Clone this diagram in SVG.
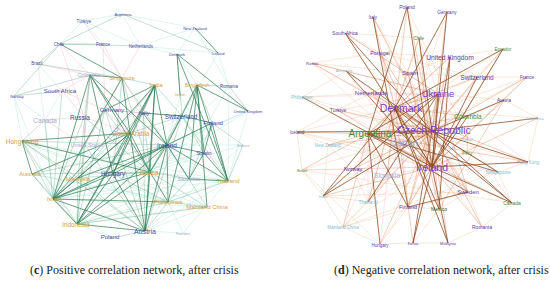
<svg xmlns="http://www.w3.org/2000/svg" width="550" height="282" viewBox="0 0 550 282">
<style>
.lab{font-family:"Liberation Sans",Arial,sans-serif;text-anchor:middle;dominant-baseline:central}
.cb{fill:#4b4ba6}.co{fill:#d9a040}.cg{fill:#a9a9c9}
.rp{fill:#7b3fc4}.rb{fill:#5b3aa8}.rc{fill:#7fbfcf}.rg{fill:#4a8a3a}.rj{fill:#9b9bd8}.rs{fill:#a8b0d8}.rm{fill:#2a5a20}
.cap{font-family:"Liberation Serif","Times New Roman",serif;font-size:12px;fill:#222}
line{fill:none}
.g1{stroke:#2f7d55;stroke-width:.9;opacity:.8}
.g2{stroke:#5aa57e;stroke-width:.6;opacity:.6}
.g3{stroke:#8fdcc8;stroke-width:.5;opacity:.6}
.gp{stroke:#f08ab0;stroke-width:.5;opacity:.55}
.b1{stroke:#8a4a20;stroke-width:.9;opacity:.85}
.b2{stroke:#d98050;stroke-width:.6;opacity:.65}
.b3{stroke:#f0c09a;stroke-width:.5;opacity:.75}
.bp{stroke:#f4a0b4;stroke-width:.5;opacity:.55}
</style>
<rect width="550" height="282" fill="#fff"/>
<g id="connectors">
<g id="c-edges-light">
<line class="g3" x1="83" y1="21" x2="60" y2="44"/><line class="g3" x1="83" y1="21" x2="103" y2="44"/><line class="g3" x1="83" y1="21" x2="140" y2="46"/>
<line class="g3" x1="122" y1="14" x2="140" y2="46"/><line class="g3" x1="122" y1="14" x2="195" y2="28"/><line class="g3" x1="122" y1="14" x2="83" y2="21"/>
<line class="g3" x1="140" y1="46" x2="195" y2="28"/><line class="g3" x1="140" y1="46" x2="218" y2="53"/><line class="g3" x1="195" y1="28" x2="177" y2="54"/>
<line class="g3" x1="195" y1="28" x2="229" y2="86"/><line class="g3" x1="140" y1="46" x2="177" y2="54"/><line class="g3" x1="177" y1="54" x2="197" y2="85"/>
<line class="g3" x1="218" y1="53" x2="229" y2="86"/><line class="g3" x1="197" y1="85" x2="180" y2="95"/>
<line class="g3" x1="228" y1="181" x2="145" y2="231"/><line class="g3" x1="228" y1="181" x2="53" y2="199"/><line class="g3" x1="228" y1="181" x2="77" y2="224"/>
<line class="g3" x1="228" y1="181" x2="22" y2="141"/><line class="g3" x1="228" y1="181" x2="150" y2="172"/><line class="g3" x1="228" y1="181" x2="113" y2="174"/>
<line class="g3" x1="228" y1="181" x2="130" y2="133"/><line class="g3" x1="207" y1="207" x2="53" y2="199"/><line class="g3" x1="207" y1="207" x2="77" y2="224"/>
<line class="g3" x1="207" y1="207" x2="22" y2="141"/><line class="g3" x1="207" y1="207" x2="32" y2="174"/><line class="g3" x1="207" y1="207" x2="145" y2="231"/>
<line class="g3" x1="243" y1="145" x2="167" y2="145"/><line class="g3" x1="243" y1="145" x2="145" y2="231"/><line class="g3" x1="243" y1="145" x2="150" y2="172"/>
<line class="g3" x1="248" y1="111" x2="167" y2="145"/><line class="g3" x1="248" y1="111" x2="150" y2="172"/><line class="g3" x1="248" y1="111" x2="228" y2="181"/>
<line class="g3" x1="112" y1="238" x2="53" y2="199"/><line class="g3" x1="112" y1="238" x2="77" y2="224"/><line class="g3" x1="112" y1="238" x2="150" y2="172"/>
<line class="g3" x1="183" y1="233" x2="145" y2="231"/><line class="g3" x1="183" y1="233" x2="228" y2="181"/><line class="g3" x1="183" y1="233" x2="168" y2="202"/>
<line class="g3" x1="168" y1="202" x2="22" y2="141"/><line class="g3" x1="168" y1="202" x2="32" y2="174"/><line class="g3" x1="168" y1="202" x2="78" y2="178"/>
<line class="g3" x1="189" y1="179" x2="53" y2="199"/><line class="g3" x1="189" y1="179" x2="77" y2="224"/><line class="g3" x1="189" y1="179" x2="22" y2="141"/>
<line class="g3" x1="204" y1="153" x2="113" y2="174"/><line class="g3" x1="204" y1="153" x2="53" y2="199"/><line class="g3" x1="212" y1="123" x2="53" y2="199"/>
<line class="g3" x1="212" y1="123" x2="150" y2="172"/><line class="g3" x1="182" y1="116" x2="53" y2="199"/><line class="g3" x1="229" y1="86" x2="167" y2="145"/>
<line class="g3" x1="229" y1="86" x2="228" y2="181"/><line class="g3" x1="45" y1="120" x2="22" y2="141"/><line class="g3" x1="45" y1="120" x2="62" y2="91"/>
<line class="g3" x1="14" y1="96" x2="22" y2="141"/><line class="g3" x1="14" y1="96" x2="45" y2="120"/><line class="g3" x1="38" y1="64" x2="62" y2="91"/>
<line class="g3" x1="85" y1="145" x2="53" y2="199"/><line class="g3" x1="85" y1="145" x2="150" y2="172"/><line class="g3" x1="180" y1="95" x2="167" y2="145"/>
<line class="g3" x1="180" y1="95" x2="228" y2="181"/><line class="g3" x1="14" y1="96" x2="53" y2="199"/><line class="g3" x1="38" y1="64" x2="53" y2="199"/>
<line class="g3" x1="229" y1="86" x2="145" y2="231"/><line class="g3" x1="248" y1="111" x2="53" y2="199"/><line class="g3" x1="218" y1="53" x2="150" y2="172"/>
<line class="gp" x1="90" y1="75" x2="84" y2="117"/><line class="gp" x1="45" y1="120" x2="84" y2="117"/><line class="gp" x1="105" y1="110" x2="85" y2="145"/>
<line class="gp" x1="130" y1="133" x2="105" y2="110"/><line class="gp" x1="22" y1="141" x2="45" y2="120"/><line class="gp" x1="62" y1="91" x2="84" y2="117"/>
<line class="gp" x1="62" y1="91" x2="105" y2="110"/><line class="gp" x1="84" y1="117" x2="85" y2="145"/><line class="gp" x1="45" y1="120" x2="85" y2="145"/>
<line class="gp" x1="105" y1="110" x2="143" y2="113"/><line class="gp" x1="122" y1="78" x2="105" y2="110"/><line class="gp" x1="90" y1="75" x2="62" y2="91"/>
<line class="gp" x1="122" y1="78" x2="143" y2="113"/><line class="gp" x1="155" y1="85" x2="143" y2="113"/><line class="gp" x1="38" y1="64" x2="90" y2="75"/>
<line class="gp" x1="83" y1="21" x2="122" y2="78"/><line class="gp" x1="60" y1="44" x2="90" y2="75"/><line class="gp" x1="103" y1="44" x2="122" y2="78"/>
<line class="gp" x1="140" y1="46" x2="122" y2="78"/><line class="gp" x1="84" y1="117" x2="130" y2="133"/><line class="gp" x1="130" y1="133" x2="143" y2="113"/>
<line class="gp" x1="105" y1="110" x2="182" y2="116"/><line class="gp" x1="60" y1="44" x2="84" y2="117"/><line class="gp" x1="103" y1="44" x2="105" y2="110"/>
</g>
<g id="c-edges-mid">
<line class="g2" x1="122" y1="14" x2="60" y2="44"/><line class="g2" x1="122" y1="14" x2="218" y2="53"/><line class="g2" x1="60" y1="44" x2="103" y2="44"/>
<line class="g2" x1="60" y1="44" x2="140" y2="46"/><line class="g2" x1="60" y1="44" x2="38" y2="64"/><line class="g2" x1="60" y1="44" x2="14" y2="96"/>
<line class="g2" x1="38" y1="64" x2="122" y2="78"/><line class="g2" x1="14" y1="96" x2="62" y2="91"/><line class="g2" x1="14" y1="96" x2="90" y2="75"/>
<line class="g2" x1="122" y1="78" x2="155" y2="85"/><line class="g2" x1="62" y1="91" x2="53" y2="199"/><line class="g2" x1="84" y1="117" x2="53" y2="199"/>
<line class="g2" x1="84" y1="117" x2="150" y2="172"/><line class="g2" x1="105" y1="110" x2="53" y2="199"/><line class="g2" x1="105" y1="110" x2="77" y2="224"/>
<line class="g2" x1="105" y1="110" x2="145" y2="231"/><line class="g2" x1="105" y1="110" x2="150" y2="172"/><line class="g2" x1="45" y1="120" x2="53" y2="199"/>
<line class="g2" x1="85" y1="145" x2="77" y2="224"/><line class="g2" x1="85" y1="145" x2="145" y2="231"/><line class="g2" x1="182" y1="116" x2="167" y2="145"/>
<line class="g2" x1="182" y1="116" x2="150" y2="172"/><line class="g2" x1="182" y1="116" x2="145" y2="231"/><line class="g2" x1="182" y1="116" x2="130" y2="133"/>
<line class="g2" x1="143" y1="113" x2="145" y2="231"/><line class="g2" x1="143" y1="113" x2="150" y2="172"/><line class="g2" x1="143" y1="113" x2="53" y2="199"/>
<line class="g2" x1="143" y1="113" x2="113" y2="174"/><line class="g2" x1="168" y1="202" x2="207" y2="207"/><line class="g2" x1="168" y1="202" x2="228" y2="181"/>
<line class="g2" x1="145" y1="231" x2="168" y2="202"/><line class="g2" x1="207" y1="207" x2="167" y2="145"/><line class="g2" x1="207" y1="207" x2="150" y2="172"/>
<line class="g2" x1="189" y1="179" x2="168" y2="202"/><line class="g2" x1="77" y1="224" x2="168" y2="202"/><line class="g2" x1="77" y1="224" x2="207" y2="207"/>
<line class="g2" x1="22" y1="141" x2="53" y2="199"/><line class="g2" x1="22" y1="141" x2="78" y2="178"/><line class="g2" x1="22" y1="141" x2="77" y2="224"/>
<line class="g2" x1="22" y1="141" x2="145" y2="231"/><line class="g2" x1="22" y1="141" x2="167" y2="145"/><line class="g2" x1="32" y1="174" x2="53" y2="199"/>
<line class="g2" x1="32" y1="174" x2="150" y2="172"/><line class="g2" x1="32" y1="174" x2="167" y2="145"/><line class="g2" x1="32" y1="174" x2="77" y2="224"/>
<line class="g2" x1="243" y1="145" x2="228" y2="181"/><line class="g2" x1="243" y1="145" x2="212" y2="123"/><line class="g2" x1="229" y1="86" x2="248" y2="111"/>
<line class="g2" x1="229" y1="86" x2="197" y2="85"/><line class="g2" x1="155" y1="85" x2="182" y2="116"/><line class="g2" x1="155" y1="85" x2="78" y2="178"/>
<line class="g2" x1="122" y1="78" x2="150" y2="172"/><line class="g2" x1="122" y1="78" x2="113" y2="174"/><line class="g2" x1="122" y1="78" x2="167" y2="145"/>
<line class="g2" x1="90" y1="75" x2="78" y2="178"/><line class="g2" x1="90" y1="75" x2="77" y2="224"/><line class="g2" x1="78" y1="178" x2="150" y2="172"/>
<line class="g2" x1="78" y1="178" x2="145" y2="231"/><line class="g2" x1="78" y1="178" x2="77" y2="224"/><line class="g2" x1="113" y1="174" x2="150" y2="172"/>
<line class="g2" x1="113" y1="174" x2="168" y2="202"/><line class="g2" x1="112" y1="238" x2="145" y2="231"/><line class="g2" x1="212" y1="123" x2="189" y2="179"/>
<line class="g2" x1="189" y1="179" x2="150" y2="172"/><line class="g2" x1="182" y1="116" x2="204" y2="153"/><line class="g2" x1="182" y1="116" x2="228" y2="181"/>
<line class="g2" x1="197" y1="85" x2="150" y2="172"/><line class="g2" x1="197" y1="85" x2="212" y2="123"/><line class="g2" x1="177" y1="54" x2="182" y2="116"/>
</g>
<g id="c-edges-strong">
<line class="g1" x1="90" y1="75" x2="122" y2="78"/><line class="g1" x1="90" y1="75" x2="53" y2="199"/><line class="g1" x1="90" y1="75" x2="150" y2="172"/>
<line class="g1" x1="90" y1="75" x2="113" y2="174"/><line class="g1" x1="90" y1="75" x2="130" y2="133"/><line class="g1" x1="90" y1="75" x2="167" y2="145"/>
<line class="g1" x1="122" y1="78" x2="53" y2="199"/><line class="g1" x1="122" y1="78" x2="130" y2="133"/><line class="g1" x1="155" y1="85" x2="130" y2="133"/>
<line class="g1" x1="155" y1="85" x2="167" y2="145"/><line class="g1" x1="155" y1="85" x2="150" y2="172"/><line class="g1" x1="155" y1="85" x2="113" y2="174"/>
<line class="g1" x1="155" y1="85" x2="145" y2="231"/><line class="g1" x1="155" y1="85" x2="53" y2="199"/><line class="g1" x1="155" y1="85" x2="77" y2="224"/>
<line class="g1" x1="155" y1="85" x2="105" y2="110"/><line class="g1" x1="197" y1="85" x2="167" y2="145"/><line class="g1" x1="197" y1="85" x2="168" y2="202"/>
<line class="g1" x1="197" y1="85" x2="207" y2="207"/><line class="g1" x1="197" y1="85" x2="189" y2="179"/><line class="g1" x1="197" y1="85" x2="228" y2="181"/>
<line class="g1" x1="197" y1="85" x2="204" y2="153"/><line class="g1" x1="167" y1="145" x2="228" y2="181"/><line class="g1" x1="167" y1="145" x2="189" y2="179"/>
<line class="g1" x1="167" y1="145" x2="204" y2="153"/><line class="g1" x1="167" y1="145" x2="212" y2="123"/><line class="g1" x1="167" y1="145" x2="168" y2="202"/>
<line class="g1" x1="167" y1="145" x2="145" y2="231"/><line class="g1" x1="167" y1="145" x2="53" y2="199"/><line class="g1" x1="167" y1="145" x2="77" y2="224"/>
<line class="g1" x1="167" y1="145" x2="150" y2="172"/><line class="g1" x1="167" y1="145" x2="113" y2="174"/><line class="g1" x1="167" y1="145" x2="78" y2="178"/>
<line class="g1" x1="167" y1="145" x2="143" y2="113"/><line class="g1" x1="53" y1="199" x2="145" y2="231"/><line class="g1" x1="53" y1="199" x2="150" y2="172"/>
<line class="g1" x1="53" y1="199" x2="113" y2="174"/><line class="g1" x1="53" y1="199" x2="78" y2="178"/><line class="g1" x1="53" y1="199" x2="77" y2="224"/>
<line class="g1" x1="53" y1="199" x2="130" y2="133"/><line class="g1" x1="53" y1="199" x2="168" y2="202"/><line class="g1" x1="77" y1="224" x2="150" y2="172"/>
<line class="g1" x1="77" y1="224" x2="145" y2="231"/><line class="g1" x1="77" y1="224" x2="130" y2="133"/><line class="g1" x1="77" y1="224" x2="113" y2="174"/>
<line class="g1" x1="145" y1="231" x2="150" y2="172"/><line class="g1" x1="145" y1="231" x2="130" y2="133"/><line class="g1" x1="145" y1="231" x2="113" y2="174"/>
<line class="g1" x1="150" y1="172" x2="130" y2="133"/><line class="g1" x1="150" y1="172" x2="168" y2="202"/><line class="g1" x1="113" y1="174" x2="130" y2="133"/>
<line class="g1" x1="78" y1="178" x2="130" y2="133"/><line class="g1" x1="32" y1="174" x2="130" y2="133"/><line class="g1" x1="32" y1="174" x2="22" y2="141"/>
<line class="g1" x1="22" y1="141" x2="130" y2="133"/><line class="g1" x1="22" y1="141" x2="150" y2="172"/><line class="g1" x1="60" y1="44" x2="122" y2="78"/>
<line class="g1" x1="177" y1="54" x2="228" y2="181"/><line class="g1" x1="228" y1="181" x2="204" y2="153"/><line class="g1" x1="228" y1="181" x2="212" y2="123"/>
<line class="g1" x1="228" y1="181" x2="189" y2="179"/><line class="g1" x1="204" y1="153" x2="189" y2="179"/><line class="g1" x1="212" y1="123" x2="204" y2="153"/>
<line class="g1" x1="212" y1="123" x2="182" y2="116"/><line class="g1" x1="182" y1="116" x2="143" y2="113"/><line class="g1" x1="177" y1="54" x2="180" y2="95"/>
<line class="g1" x1="177" y1="54" x2="248" y2="111"/><line class="g1" x1="195" y1="28" x2="218" y2="53"/><line class="g1" x1="197" y1="85" x2="248" y2="111"/>
</g>
<g id="d-edges-light">
<line class="b3" x1="312" y1="63" x2="346" y2="71"/><line class="b3" x1="312" y1="63" x2="408" y2="73"/><line class="b3" x1="312" y1="63" x2="380" y2="53"/>
<line class="b3" x1="345" y1="33" x2="380" y2="53"/><line class="b3" x1="345" y1="33" x2="419" y2="38"/><line class="b3" x1="373" y1="17" x2="380" y2="53"/>
<line class="b3" x1="373" y1="17" x2="408" y2="73"/><line class="b3" x1="380" y1="53" x2="408" y2="73"/><line class="b3" x1="380" y1="53" x2="450" y2="57"/>
<line class="b3" x1="380" y1="53" x2="477" y2="77"/><line class="b3" x1="408" y1="73" x2="477" y2="77"/><line class="b3" x1="408" y1="73" x2="450" y2="57"/>
<line class="b3" x1="419" y1="38" x2="408" y2="73"/><line class="b3" x1="450" y1="57" x2="477" y2="77"/><line class="b3" x1="450" y1="57" x2="503" y2="49"/>
<line class="b3" x1="503" y1="49" x2="477" y2="77"/><line class="b3" x1="477" y1="77" x2="527" y2="77"/><line class="b3" x1="477" y1="77" x2="438" y2="94"/>
<line class="b3" x1="504" y1="100" x2="527" y2="77"/><line class="b3" x1="504" y1="100" x2="438" y2="94"/><line class="b3" x1="302" y1="97" x2="346" y2="71"/>
<line class="b3" x1="302" y1="97" x2="372" y2="93"/><line class="b3" x1="302" y1="97" x2="337" y2="110"/><line class="b3" x1="337" y1="110" x2="297" y2="132"/>
<line class="b3" x1="337" y1="110" x2="372" y2="93"/><line class="b3" x1="372" y1="93" x2="395" y2="108"/><line class="b3" x1="372" y1="93" x2="408" y2="73"/>
<line class="b3" x1="297" y1="132" x2="328" y2="145"/><line class="b3" x1="297" y1="132" x2="302" y2="170"/><line class="b3" x1="328" y1="145" x2="353" y2="169"/>
<line class="b3" x1="328" y1="145" x2="323" y2="196"/><line class="b3" x1="302" y1="170" x2="353" y2="169"/><line class="b3" x1="302" y1="170" x2="323" y2="196"/>
<line class="b3" x1="323" y1="196" x2="343" y2="227"/><line class="b3" x1="323" y1="196" x2="368" y2="202"/><line class="b3" x1="353" y1="169" x2="368" y2="202"/>
<line class="b3" x1="368" y1="202" x2="343" y2="227"/><line class="b3" x1="343" y1="227" x2="380" y2="244"/><line class="b3" x1="380" y1="244" x2="408" y2="207"/>
<line class="b3" x1="380" y1="244" x2="413" y2="243"/><line class="b3" x1="413" y1="243" x2="448" y2="243"/><line class="b3" x1="448" y1="243" x2="482" y2="227"/>
<line class="b3" x1="482" y1="227" x2="512" y2="203"/><line class="b3" x1="512" y1="203" x2="498" y2="172"/><line class="b3" x1="498" y1="172" x2="528" y2="162"/>
<line class="b3" x1="528" y1="162" x2="538" y2="118"/><line class="b3" x1="538" y1="118" x2="504" y2="100"/><line class="b3" x1="468" y1="192" x2="439" y2="209"/>
<line class="b3" x1="468" y1="192" x2="482" y2="227"/><line class="b3" x1="439" y1="209" x2="413" y2="243"/><line class="b3" x1="439" y1="209" x2="448" y2="243"/>
<line class="b3" x1="408" y1="207" x2="439" y2="209"/><line class="b3" x1="467" y1="153" x2="468" y2="139"/><line class="b3" x1="467" y1="153" x2="498" y2="172"/>
<line class="b3" x1="468" y1="116" x2="467" y2="153"/><line class="b3" x1="468" y1="116" x2="504" y2="100"/><line class="b3" x1="402" y1="143" x2="387" y2="175"/>
<line class="b3" x1="387" y1="175" x2="353" y2="169"/><line class="b3" x1="387" y1="175" x2="368" y2="202"/><line class="b3" x1="343" y1="227" x2="432" y2="131"/>
<line class="b3" x1="343" y1="227" x2="432" y2="167"/><line class="b3" x1="323" y1="196" x2="402" y2="143"/><line class="b3" x1="380" y1="244" x2="432" y2="167"/>
<line class="b3" x1="302" y1="170" x2="432" y2="131"/><line class="b3" x1="297" y1="132" x2="432" y2="167"/><line class="b3" x1="302" y1="97" x2="432" y2="131"/>
<line class="b3" x1="346" y1="71" x2="402" y2="143"/><line class="b3" x1="346" y1="71" x2="395" y2="108"/><line class="b3" x1="345" y1="33" x2="395" y2="108"/>
<line class="b3" x1="312" y1="63" x2="402" y2="143"/><line class="b3" x1="337" y1="110" x2="528" y2="162"/><line class="b3" x1="297" y1="132" x2="498" y2="172"/>
<line class="b3" x1="302" y1="170" x2="512" y2="203"/><line class="b3" x1="323" y1="196" x2="468" y2="192"/><line class="b3" x1="343" y1="227" x2="498" y2="172"/>
<line class="b3" x1="373" y1="17" x2="468" y2="192"/><line class="b3" x1="407" y1="7" x2="468" y2="139"/><line class="b3" x1="447" y1="12" x2="402" y2="143"/>
<line class="b3" x1="527" y1="77" x2="402" y2="143"/><line class="b3" x1="527" y1="77" x2="368" y2="134"/><line class="b3" x1="538" y1="118" x2="395" y2="108"/>
<line class="b3" x1="503" y1="49" x2="368" y2="134"/><line class="b3" x1="302" y1="170" x2="380" y2="244"/><line class="b3" x1="343" y1="227" x2="468" y2="192"/>
<line class="bp" x1="372" y1="93" x2="402" y2="143"/><line class="bp" x1="337" y1="110" x2="402" y2="143"/><line class="bp" x1="368" y1="134" x2="402" y2="143"/>
<line class="bp" x1="395" y1="108" x2="402" y2="143"/><line class="bp" x1="402" y1="143" x2="408" y2="207"/><line class="bp" x1="402" y1="143" x2="468" y2="192"/>
<line class="bp" x1="402" y1="143" x2="439" y2="209"/><line class="bp" x1="387" y1="175" x2="432" y2="167"/><line class="bp" x1="387" y1="175" x2="432" y2="131"/>
<line class="bp" x1="353" y1="169" x2="432" y2="167"/><line class="bp" x1="353" y1="169" x2="395" y2="108"/><line class="bp" x1="368" y1="202" x2="432" y2="167"/>
<line class="bp" x1="343" y1="227" x2="395" y2="108"/><line class="bp" x1="302" y1="170" x2="432" y2="167"/><line class="bp" x1="328" y1="145" x2="432" y2="167"/>
<line class="bp" x1="297" y1="132" x2="395" y2="108"/><line class="bp" x1="337" y1="110" x2="438" y2="94"/><line class="bp" x1="302" y1="97" x2="438" y2="94"/>
<line class="bp" x1="346" y1="71" x2="438" y2="94"/><line class="bp" x1="380" y1="53" x2="395" y2="108"/><line class="bp" x1="408" y1="73" x2="432" y2="131"/>
<line class="bp" x1="408" y1="73" x2="395" y2="108"/><line class="bp" x1="372" y1="93" x2="438" y2="94"/><line class="bp" x1="468" y1="139" x2="432" y2="131"/>
<line class="bp" x1="467" y1="153" x2="432" y2="167"/><line class="bp" x1="498" y1="172" x2="432" y2="167"/><line class="bp" x1="468" y1="192" x2="432" y2="131"/>
<line class="bp" x1="439" y1="209" x2="432" y2="167"/><line class="bp" x1="408" y1="207" x2="432" y2="167"/><line class="bp" x1="413" y1="243" x2="432" y2="167"/>
<line class="bp" x1="380" y1="244" x2="395" y2="108"/><line class="bp" x1="482" y1="227" x2="395" y2="108"/><line class="bp" x1="512" y1="203" x2="438" y2="94"/>
<line class="bp" x1="528" y1="162" x2="438" y2="94"/><line class="bp" x1="468" y1="116" x2="432" y2="131"/><line class="bp" x1="477" y1="77" x2="432" y2="167"/>
<line class="bp" x1="450" y1="57" x2="395" y2="108"/><line class="bp" x1="419" y1="38" x2="438" y2="94"/><line class="bp" x1="345" y1="33" x2="438" y2="94"/>
<line class="bp" x1="312" y1="63" x2="395" y2="108"/><line class="bp" x1="368" y1="134" x2="368" y2="202"/><line class="bp" x1="395" y1="108" x2="368" y2="202"/>
</g>
<g id="d-edges-mid">
<line class="b2" x1="312" y1="63" x2="432" y2="131"/><line class="b2" x1="312" y1="63" x2="438" y2="94"/><line class="b2" x1="345" y1="33" x2="438" y2="94"/>
<line class="b2" x1="380" y1="53" x2="432" y2="167"/><line class="b2" x1="380" y1="53" x2="468" y2="192"/><line class="b2" x1="408" y1="73" x2="432" y2="167"/>
<line class="b2" x1="408" y1="73" x2="439" y2="209"/><line class="b2" x1="372" y1="93" x2="432" y2="131"/><line class="b2" x1="372" y1="93" x2="432" y2="167"/>
<line class="b2" x1="337" y1="110" x2="432" y2="131"/><line class="b2" x1="337" y1="110" x2="432" y2="167"/><line class="b2" x1="297" y1="132" x2="368" y2="134"/>
<line class="b2" x1="328" y1="145" x2="432" y2="131"/><line class="b2" x1="328" y1="145" x2="368" y2="134"/><line class="b2" x1="302" y1="170" x2="368" y2="134"/>
<line class="b2" x1="353" y1="169" x2="432" y2="131"/><line class="b2" x1="353" y1="169" x2="438" y2="94"/><line class="b2" x1="387" y1="175" x2="395" y2="108"/>
<line class="b2" x1="368" y1="202" x2="395" y2="108"/><line class="b2" x1="368" y1="202" x2="432" y2="131"/><line class="b2" x1="343" y1="227" x2="368" y2="134"/>
<line class="b2" x1="380" y1="244" x2="432" y2="131"/><line class="b2" x1="408" y1="207" x2="432" y2="131"/><line class="b2" x1="408" y1="207" x2="438" y2="94"/>
<line class="b2" x1="439" y1="209" x2="432" y2="131"/><line class="b2" x1="482" y1="227" x2="432" y2="167"/><line class="b2" x1="482" y1="227" x2="432" y2="131"/>
<line class="b2" x1="468" y1="192" x2="395" y2="108"/><line class="b2" x1="468" y1="192" x2="438" y2="94"/><line class="b2" x1="512" y1="203" x2="368" y2="134"/>
<line class="b2" x1="498" y1="172" x2="395" y2="108"/><line class="b2" x1="528" y1="162" x2="395" y2="108"/><line class="b2" x1="528" y1="162" x2="368" y2="134"/>
<line class="b2" x1="467" y1="153" x2="395" y2="108"/><line class="b2" x1="468" y1="139" x2="368" y2="134"/><line class="b2" x1="468" y1="116" x2="395" y2="108"/>
<line class="b2" x1="468" y1="116" x2="368" y2="134"/><line class="b2" x1="504" y1="100" x2="432" y2="167"/><line class="b2" x1="504" y1="100" x2="439" y2="209"/>
<line class="b2" x1="527" y1="77" x2="432" y2="131"/><line class="b2" x1="527" y1="77" x2="432" y2="167"/><line class="b2" x1="477" y1="77" x2="432" y2="131"/>
<line class="b2" x1="477" y1="77" x2="395" y2="108"/><line class="b2" x1="450" y1="57" x2="432" y2="131"/><line class="b2" x1="450" y1="57" x2="368" y2="134"/>
<line class="b2" x1="419" y1="38" x2="432" y2="167"/><line class="b2" x1="419" y1="38" x2="395" y2="108"/><line class="b2" x1="447" y1="12" x2="432" y2="131"/>
<line class="b2" x1="407" y1="7" x2="432" y2="131"/><line class="b2" x1="407" y1="7" x2="395" y2="108"/><line class="b2" x1="373" y1="17" x2="432" y2="131"/>
<line class="b2" x1="373" y1="17" x2="395" y2="108"/><line class="b2" x1="503" y1="49" x2="432" y2="131"/><line class="b2" x1="503" y1="49" x2="408" y2="207"/>
<line class="b2" x1="438" y1="94" x2="432" y2="131"/><line class="b2" x1="438" y1="94" x2="395" y2="108"/><line class="b2" x1="402" y1="143" x2="432" y2="131"/>
<line class="b2" x1="402" y1="143" x2="432" y2="167"/><line class="b2" x1="395" y1="108" x2="432" y2="131"/><line class="b2" x1="368" y1="134" x2="432" y2="167"/>
<line class="b2" x1="368" y1="134" x2="395" y2="108"/><line class="b2" x1="538" y1="118" x2="432" y2="167"/><line class="b2" x1="413" y1="243" x2="395" y2="108"/>
<line class="b2" x1="448" y1="243" x2="432" y2="131"/><line class="b2" x1="323" y1="196" x2="432" y2="167"/>
</g>
<g id="d-edges-strong">
<line class="b1" x1="345" y1="33" x2="432" y2="167"/><line class="b1" x1="345" y1="33" x2="432" y2="131"/><line class="b1" x1="346" y1="71" x2="432" y2="167"/>
<line class="b1" x1="346" y1="71" x2="432" y2="131"/><line class="b1" x1="302" y1="97" x2="432" y2="167"/><line class="b1" x1="297" y1="132" x2="432" y2="131"/>
<line class="b1" x1="323" y1="196" x2="432" y2="131"/><line class="b1" x1="323" y1="196" x2="395" y2="108"/><line class="b1" x1="373" y1="17" x2="408" y2="207"/>
<line class="b1" x1="407" y1="7" x2="432" y2="167"/><line class="b1" x1="407" y1="7" x2="368" y2="134"/><line class="b1" x1="447" y1="12" x2="395" y2="108"/>
<line class="b1" x1="447" y1="12" x2="432" y2="167"/><line class="b1" x1="419" y1="38" x2="432" y2="131"/><line class="b1" x1="450" y1="57" x2="432" y2="167"/>
<line class="b1" x1="450" y1="57" x2="439" y2="209"/><line class="b1" x1="503" y1="49" x2="395" y2="108"/><line class="b1" x1="503" y1="49" x2="432" y2="167"/>
<line class="b1" x1="477" y1="77" x2="432" y2="167"/><line class="b1" x1="504" y1="100" x2="432" y2="131"/><line class="b1" x1="438" y1="94" x2="368" y2="134"/>
<line class="b1" x1="438" y1="94" x2="432" y2="167"/><line class="b1" x1="395" y1="108" x2="432" y2="167"/><line class="b1" x1="395" y1="108" x2="439" y2="209"/>
<line class="b1" x1="368" y1="134" x2="432" y2="131"/><line class="b1" x1="368" y1="134" x2="408" y2="207"/><line class="b1" x1="368" y1="134" x2="468" y2="192"/>
<line class="b1" x1="432" y1="131" x2="528" y2="162"/><line class="b1" x1="432" y1="131" x2="498" y2="172"/><line class="b1" x1="432" y1="131" x2="512" y2="203"/>
<line class="b1" x1="432" y1="167" x2="512" y2="203"/><line class="b1" x1="432" y1="167" x2="528" y2="162"/><line class="b1" x1="432" y1="167" x2="413" y2="243"/>
<line class="b1" x1="432" y1="167" x2="448" y2="243"/><line class="b1" x1="413" y1="243" x2="432" y2="131"/><line class="b1" x1="323" y1="196" x2="438" y2="94"/>
<line class="b1" x1="408" y1="207" x2="468" y2="192"/><line class="b1" x1="368" y1="202" x2="438" y2="94"/><line class="b1" x1="380" y1="244" x2="368" y2="134"/>
<line class="b1" x1="448" y1="243" x2="395" y2="108"/><line class="b1" x1="512" y1="203" x2="395" y2="108"/><line class="b1" x1="498" y1="172" x2="368" y2="134"/>
<line class="b1" x1="468" y1="116" x2="432" y2="167"/><line class="b1" x1="538" y1="118" x2="432" y2="131"/>
</g>
</g>
<g id="c-nodes">
<g id="c-argentina"><text class="lab cb" x="123" y="14" font-size="4">Argentina</text></g>
<g id="c-turkiye"><text class="lab cb" x="84" y="21" font-size="4.5">Türkiye</text></g>
<g id="c-chile"><text class="lab cb" x="59" y="44" font-size="4.5">Chile</text></g>
<g id="c-france"><text class="lab cb" x="103" y="44" font-size="4.5">France</text></g>
<g id="c-netherlands"><text class="lab cb" x="141" y="46" font-size="4.5">Netherlands</text></g>
<g id="c-newzealand"><text class="lab cb" x="195" y="28" font-size="4">New Zealand</text></g>
<g id="c-iceland"><text class="lab cb" x="218" y="53" font-size="4">Iceland</text></g>
<g id="c-denmark"><text class="lab cb" x="177" y="54" font-size="4">Denmark</text></g>
<g id="c-brazil"><text class="lab cb" x="37" y="63" font-size="4.5">Brazil</text></g>
<g id="c-colombia"><text class="lab cg" x="89" y="75" font-size="5.5">Colombia</text></g>
<g id="c-singapore"><text class="lab co" x="122" y="78" font-size="5.6">Singapore</text></g>
<g id="c-india"><text class="lab co" x="156" y="85" font-size="6">India</text></g>
<g id="c-bangladesh"><text class="lab co" x="197" y="85" font-size="4.5">Bangladesh</text></g>
<g id="c-romania"><text class="lab cb" x="229" y="86" font-size="4.5">Romania</text></g>
<g id="c-southafrica"><text class="lab cb" x="60" y="91" font-size="6">South Africa</text></g>
<g id="c-norway"><text class="lab cb" x="17" y="96" font-size="4">Norway</text></g>
<g id="c-japan"><text class="lab co" x="180" y="94" font-size="4">Japan</text></g>
<g id="c-germany"><text class="lab cb" x="112" y="110" font-size="6">Germany</text></g>
<g id="c-russia"><text class="lab cb" x="80" y="117" font-size="6.5">Russia</text></g>
<g id="c-canada"><text class="lab cg" x="45" y="120" font-size="6.8">Canada</text></g>
<g id="c-italy"><text class="lab cb" x="144" y="113" font-size="6">Italy</text></g>
<g id="c-switzerland"><text class="lab cb" x="181" y="116" font-size="6.3">Switzerland</text></g>
<g id="c-finland"><text class="lab cb" x="213" y="123" font-size="6">Finland</text></g>
<g id="c-uk"><text class="lab cb" x="248" y="111" font-size="4">United Kingdom</text></g>
<g id="c-hongkong"><text class="lab co" x="22" y="141" font-size="6.5">Hong Kong</text></g>
<g id="c-saudi"><text class="lab co" x="131" y="133" font-size="6.5">Saudi Arabia</text></g>
<g id="c-unitedstates"><text class="lab cg" x="87" y="145" font-size="5.5">United States</text></g>
<g id="c-ireland"><text class="lab cb" x="167" y="145" font-size="6.5">Ireland</text></g>
<g id="c-greece"><text class="lab cg" x="243" y="145" font-size="4">Greece</text></g>
<g id="c-spain"><text class="lab cb" x="204" y="153" font-size="6">Spain</text></g>
<g id="c-korea"><text class="lab co" x="149" y="172" font-size="7">Korea</text></g>
<g id="c-hungary"><text class="lab cb" x="113" y="173" font-size="6.4">Hungary</text></g>
<g id="c-malaysia"><text class="lab co" x="78" y="178" font-size="6.2">Malaysia</text></g>
<g id="c-slovakia"><text class="lab cg" x="189" y="179" font-size="6">Slovakia</text></g>
<g id="c-thailand"><text class="lab co" x="228" y="181" font-size="6">Thailand</text></g>
<g id="c-australia"><text class="lab co" x="30" y="174" font-size="5.5">Australia</text></g>
<g id="c-israel"><text class="lab co" x="54" y="199" font-size="5.8">Israel</text></g>
<g id="c-philippines"><text class="lab co" x="168" y="202" font-size="6">Philippines</text></g>
<g id="c-mainlandchina"><text class="lab co" x="207" y="207" font-size="6">Mainland China</text></g>
<g id="c-indonesia"><text class="lab co" x="76" y="224" font-size="6.3">Indonesia</text></g>
<g id="c-austria"><text class="lab cb" x="145" y="231" font-size="7">Austria</text></g>
<g id="c-poland"><text class="lab cb" x="110" y="237" font-size="6">Poland</text></g>
<g id="c-sweden"><text class="lab cg" x="183" y="233" font-size="4">Sweden</text></g>
</g>
<g id="d-nodes">
<g id="d-italy"><text class="lab rb" x="373" y="17" font-size="4.5">Italy</text></g>
<g id="d-poland"><text class="lab rb" x="407" y="7" font-size="5">Poland</text></g>
<g id="d-germany"><text class="lab rb" x="447" y="12" font-size="4.7">Germany</text></g>
<g id="d-southafrica"><text class="lab rb" x="345" y="33" font-size="4.7">South Africa</text></g>
<g id="d-chile"><text class="lab rg" x="419" y="38" font-size="4.5">Chile</text></g>
<g id="d-portugal"><text class="lab rb" x="380" y="53" font-size="5.2">Portugal</text></g>
<g id="d-uk"><text class="lab rb" x="450" y="57" font-size="6.7">United Kingdom</text></g>
<g id="d-ecuador"><text class="lab rg" x="503" y="49" font-size="4.5">Ecuador</text></g>
<g id="d-russia"><text class="lab rb" x="312" y="63" font-size="4">Russia</text></g>
<g id="d-australia"><text class="lab rc" x="344" y="70" font-size="4.3">Australia</text></g>
<g id="d-spain"><text class="lab rb" x="410" y="72" font-size="6.2">Spain</text></g>
<g id="d-switzerland"><text class="lab rb" x="477" y="77" font-size="6.4">Switzerland</text></g>
<g id="d-france"><text class="lab rb" x="527" y="77" font-size="4.5">France</text></g>
<g id="d-netherlands"><text class="lab rb" x="371" y="93" font-size="6">Netherlands</text></g>
<g id="d-ukraine"><text class="lab rp" x="438" y="93" font-size="9.5">Ukraine</text></g>
<g id="d-philippines"><text class="lab rc" x="302" y="97" font-size="4.5">Philippines</text></g>
<g id="d-austria"><text class="lab rb" x="504" y="100" font-size="4.5">Austria</text></g>
<g id="d-denmark"><text class="lab rp" x="401" y="108" font-size="10.5">Denmark</text></g>
<g id="d-turkiye"><text class="lab rb" x="338" y="110" font-size="5">Türkiye</text></g>
<g id="d-colombia"><text class="lab rg" x="468" y="116" font-size="6.5">Colombia</text></g>
<g id="d-indonesia"><text class="lab rc" x="535" y="118" font-size="4">Indonesia</text></g>
<g id="d-iceland"><text class="lab rb" x="297" y="132" font-size="4.5">Iceland</text></g>
<g id="d-argentina"><text class="lab rg" x="370" y="133" font-size="10">Argentina</text></g>
<g id="d-czech"><text class="lab rp" x="434" y="130" font-size="10.5">Czech Republic</text></g>
<g id="d-japan"><text class="lab rj" x="405" y="142" font-size="9.5">Japan</text></g>
<g id="d-israel"><text class="lab rc" x="468" y="139" font-size="4">Israel</text></g>
<g id="d-newzealand"><text class="lab rc" x="328" y="145" font-size="4.5">New Zealand</text></g>
<g id="d-peru"><text class="lab rg" x="467" y="153" font-size="4.5">Peru</text></g>
<g id="d-hongkong"><text class="lab rc" x="528" y="162" font-size="4.5">Hong Kong</text></g>
<g id="d-ireland"><text class="lab rp" x="432" y="167" font-size="10.5">Ireland</text></g>
<g id="d-norway"><text class="lab rb" x="353" y="169" font-size="5.5">Norway</text></g>
<g id="d-brazil"><text class="lab rg" x="302" y="170" font-size="4">Brazil</text></g>
<g id="d-slovakia"><text class="lab rs" x="387" y="175" font-size="7">Slovakia</text></g>
<g id="d-singapore"><text class="lab rc" x="498" y="172" font-size="5.5">Singapore</text></g>
<g id="d-sweden"><text class="lab rb" x="468" y="192" font-size="6">Sweden</text></g>
<g id="d-india"><text class="lab rc" x="323" y="196" font-size="4">India</text></g>
<g id="d-thailand"><text class="lab rc" x="368" y="202" font-size="5">Thailand</text></g>
<g id="d-canada"><text class="lab rg" x="512" y="203" font-size="5">Canada</text></g>
<g id="d-finland"><text class="lab rb" x="408" y="207" font-size="5.5">Finland</text></g>
<g id="d-mexico"><text class="lab rm" x="439" y="209" font-size="5">Mexico</text></g>
<g id="d-mainlandchina"><text class="lab rc" x="343" y="227" font-size="4.5">Mainland China</text></g>
<g id="d-romania"><text class="lab rb" x="482" y="227" font-size="5">Romania</text></g>
<g id="d-hungary"><text class="lab rb" x="380" y="245" font-size="4.5">Hungary</text></g>
<g id="d-korea"><text class="lab rb" x="413" y="243" font-size="4">Korea</text></g>
<g id="d-malaysia"><text class="lab rb" x="448" y="243" font-size="4">Malaysia</text></g>
</g>
<g id="captions">
<text class="cap" x="30" y="274">(<tspan font-weight="bold">c</tspan>) Positive correlation network, after crisis</text>
<text class="cap" x="334" y="274">(<tspan font-weight="bold">d</tspan>) Negative correlation network, after crisis</text>
</g>
</svg>
